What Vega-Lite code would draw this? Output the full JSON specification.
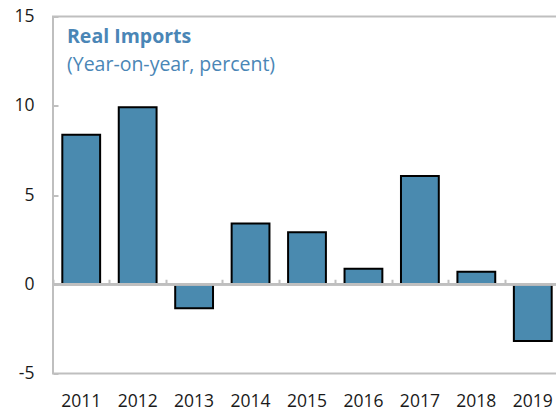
{
  "$schema": "https://vega.github.io/schema/vega-lite/v6.json",
  "autosize": "none",
  "width": 508,
  "height": 357,
  "padding": {"left": 53, "top": 16.5, "right": 0, "bottom": 39.5},
  "background": "white",
  "config": {
    "font": "Open Sans",
    "view": {"stroke": "#bfbfbf", "strokeWidth": 2},
    "axis": {"grid": false, "labelFont": "Open Sans", "labelColor": "#1a1a1a", "labelFontSize": 17.5}
  },
  "title": {
    "text": "Real Imports",
    "subtitle": "(Year-on-year, percent)",
    "anchor": "start",
    "frame": "group",
    "orient": "top",
    "offset": -68,
    "dx": 14,
    "font": "Open Sans",
    "fontSize": 19.5,
    "fontWeight": "bold",
    "color": "#4a86b6",
    "subtitleFont": "Open Sans",
    "subtitleFontSize": 19.5,
    "subtitleColor": "#4a86b6",
    "subtitlePadding": 9
  },
  "data": {
    "values": [
      {"year": "2011", "value": 8.37},
      {"year": "2012", "value": 9.91},
      {"year": "2013", "value": -1.35},
      {"year": "2014", "value": 3.4},
      {"year": "2015", "value": 2.91},
      {"year": "2016", "value": 0.87},
      {"year": "2017", "value": 6.06},
      {"year": "2018", "value": 0.7},
      {"year": "2019", "value": -3.18}
    ]
  },
  "layer": [
    {
      "mark": {"type": "bar", "fill": "#4a8aaf", "stroke": "#000000", "strokeWidth": 2},
      "encoding": {
        "x": {"field": "year", "type": "nominal", "sort": null,
          "scale": {"paddingInner": 0.33, "paddingOuter": 0.165},
          "axis": {"orient": "bottom", "domain": false, "ticks": false, "labelPadding": 19, "labelAngle": 0, "title": null}},
        "y": {"field": "value", "type": "quantitative",
          "scale": {"domain": [-5, 15], "nice": false, "zero": false},
          "axis": {"values": [-5, 0, 5, 10, 15], "labelExpr": "'' + datum.value", "domain": false, "tickSize": -5, "tickWidth": 2,
            "tickColor": "#bfbfbf", "labelPadding": 24, "title": null, "zindex": 2}}
      }
    },
    {
      "mark": {"type": "rule", "color": "#bfbfbf", "strokeWidth": 2},
      "encoding": {"y": {"datum": 0}}
    },
    {
      "mark": {"type": "bar", "fillOpacity": 0, "strokeOpacity": 0},
      "encoding": {
        "x": {"field": "year", "type": "nominal", "sort": null,
          "scale": {"paddingInner": 0, "paddingOuter": 0},
          "axis": {"orient": "top", "offset": -267.75, "labels": false, "domain": false, "ticks": true,
            "tickBand": "extent", "tickSize": 5, "tickWidth": 2, "tickColor": "#bfbfbf", "title": null, "zindex": 2}},
        "y": {"field": "value", "type": "quantitative"}
      }
    }
  ],
  "resolve": {"axis": {"x": "independent"}, "scale": {"x": "independent"}}
}
